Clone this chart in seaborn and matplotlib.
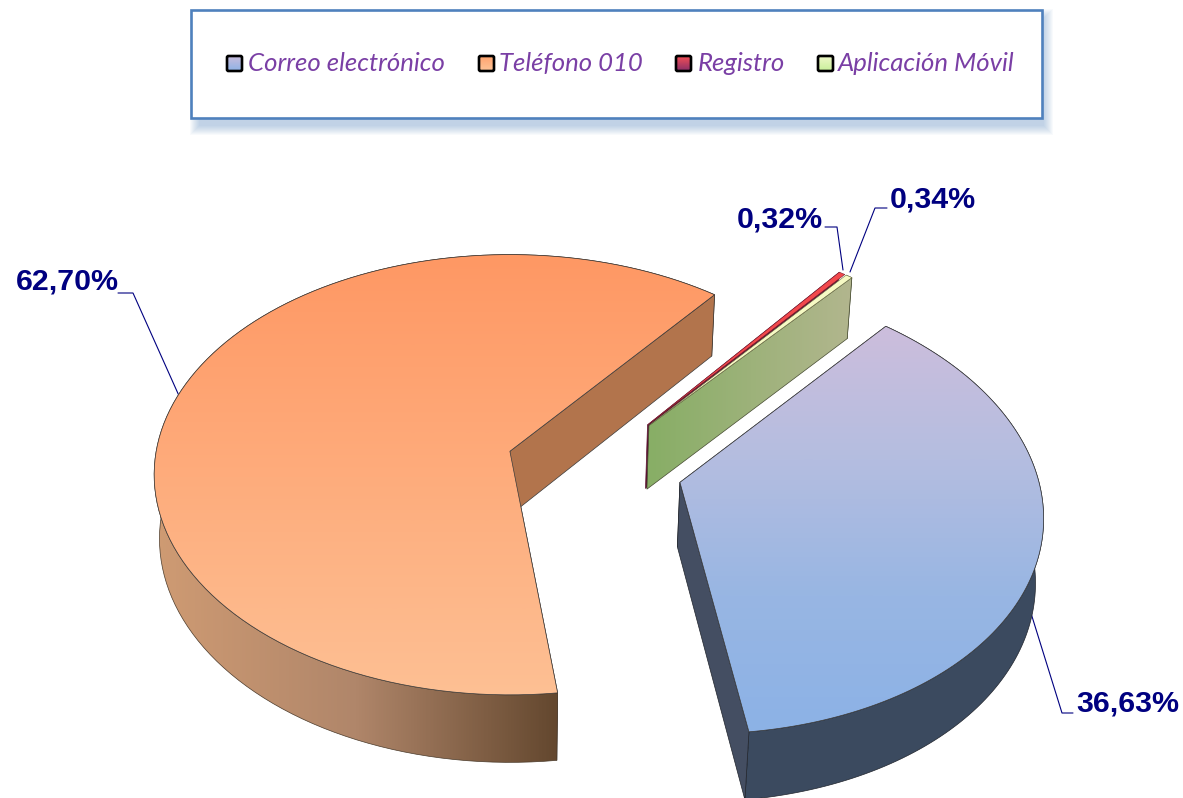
"""Exploded 3D pie of requests per channel, with perspective drawn by hand."""
import numpy as np
import matplotlib

matplotlib.use("Agg")
import matplotlib.pyplot as plt
from matplotlib.patches import FancyBboxPatch, Polygon, Rectangle
import seaborn as sns

channels = ["Correo electrónico", "Teléfono 010", "Registro", "Aplicación Móvil"]
shares = [36.63, 62.70, 0.32, 0.34]
share_labels = ["36,63%", "62,70%", "0,32%", "0,34%"]

# layout of the projection, in pixels of the picture
CX, CY, RX, RY = 509, 453, 354, 218
TILT = 0.1066
DEPTH, SHRINK = 65, 0.015
ORIGIN = (0.24, -0.06)
EXPLODE = 0.247
START_ANGLE = 48.8

sns.set_theme(style="white")
plt.rcParams["font.family"] = ["Liberation Sans", "DejaVu Sans"]

top_cmaps = [
    sns.blend_palette(["#cdbedc", "#b4bde0", "#98b6e3", "#8cb2e6"], as_cmap=True),
    sns.blend_palette(["#ff9864", "#fdc094"], as_cmap=True),
]
orange_wall = sns.blend_palette(["#cf9b73", "#b0866a", "#64482f"], as_cmap=True)
green_wall = sns.blend_palette(["#88ae66", "#b2b68e"], as_cmap=True)
key_cmaps = [
    sns.blend_palette(["#c9bddd", "#8fb3e6"], as_cmap=True),
    sns.blend_palette(["#ffa36e", "#fdc498"], as_cmap=True),
    sns.blend_palette(["#f44f56", "#8a2f68"], as_cmap=True),
    sns.blend_palette(["#eff8c8", "#c8f09a"], as_cmap=True),
]

fig = plt.figure(figsize=(11.83, 7.98), dpi=100)
ax = fig.add_axes([0, 0, 1, 1])
ax.set_xlim(0, 1183)
ax.set_ylim(798, 0)
ax.autoscale(False)
ax.axis("off")

order = [10]


def next_z():
    order[0] += 1
    return order[0]


def project(x, y, low=0.0):
    w = 1 + TILT * y + SHRINK * low
    return CX + RX * x / w, CY - RY * y / w + DEPTH * low / w


def fill(points, color=None, cmap=None, lims=None, horizontal=False, edge="#3a3a3a", lw=0.5):
    z = next_z()
    poly = Polygon(points, closed=True, transform=ax.transData,
                   facecolor=color if color else "none",
                   edgecolor=edge, linewidth=lw, zorder=z + 0.5)
    ax.add_patch(poly)
    if cmap is not None:
        size = 1183 if horizontal else 798
        t = np.clip((np.arange(size) - lims[0]) / (lims[1] - lims[0]), 0, 1)
        grad = t[None, :] if horizontal else t[:, None]
        im = ax.imshow(grad, cmap=cmap, vmin=0, vmax=1, aspect="auto",
                       extent=(0, 1183, 798, 0), zorder=z, interpolation="bilinear")
        im.set_clip_path(poly)


def slice_parts(a0, a1):
    mid = np.radians((a0 + a1) / 2)
    cx = ORIGIN[0] + EXPLODE * np.cos(mid)
    cy = ORIGIN[1] + EXPLODE * np.sin(mid)
    t = np.radians(np.linspace(a0, a1, 120))
    rx, ry = cx + np.cos(t), cy + np.sin(t)
    top_rim = np.column_stack(project(rx, ry))
    low_rim = np.column_stack(project(rx, ry, 1.0))
    apex = np.array(project(cx, cy))
    low_apex = np.array(project(cx, cy, 1.0))
    return apex, low_apex, top_rim, low_rim


# clockwise from the start angle, in the order of the data
fractions = np.array(shares) / sum(shares) * 360
ends = START_ANGLE - np.cumsum(fractions)
starts = ends + fractions
parts = [slice_parts(e, s) for s, e in zip(starts, ends)]

# leader lines sit behind the slices
leaders = [
    [(1073, 713), (1062, 713), (1030, 610)],
    [(118, 293), (133, 293), (180, 398)],
    [(825, 227), (837, 227), (843, 270)],
    [(887, 208), (875, 208), (850, 272)],
]
for pts in leaders:
    xs, ys = zip(*pts)
    ax.plot(xs, ys, color="#000080", lw=0.8, zorder=5)

# orange: hidden wall, then the outer wall, then the inner wall over its back part
apex, low_apex, rim, low_rim = parts[1]
fill([apex, rim[-1], low_rim[-1], low_apex], color="#b07048")
fill(np.vstack([rim, low_rim[::-1]]), cmap=orange_wall, lims=(155, 556), horizontal=True, edge="#4a3a2a")
fill([apex, rim[0], low_rim[0], low_apex], color="#b2744c")
fill(np.vstack([[apex], rim]), cmap=top_cmaps[1], lims=(256, 697))

# the two thin slices
apex, low_apex, rim, low_rim = parts[2]
fill([apex, rim[-1], low_rim[-1], low_apex], color="#5a1030", edge="#5a1030")
fill(np.vstack([[apex], rim]), color="#f2484c", edge="#7a2030", lw=0.4)

apex, low_apex, rim, low_rim = parts[3]
fill(np.vstack([rim, low_rim[::-1]]), color="#b2b68e", edge="#454a30", lw=0.4)
fill([apex, rim[0], low_rim[0], low_apex], cmap=green_wall, lims=(650, 852), horizontal=True, edge="#454a30")
fill(np.vstack([[apex], rim]), color="#f6fac4", edge="#70734a", lw=0.4)

# blue
apex, low_apex, rim, low_rim = parts[0]
fill(np.vstack([rim, low_rim[::-1]]), color="#3b4a5f", edge="#20242c")
fill([apex, rim[-1], low_rim[-1], low_apex], color="#3a4a60")
fill([apex, rim[0], low_rim[0], low_apex], color="#444e62", edge="#20242c")
fill(np.vstack([[apex], rim]), cmap=top_cmaps[0], lims=(323, 732))

# value labels
label_pos = [(1128, 703), (67, 282), (780, 219), (933, 199)]
for text, (x, y) in zip(share_labels, label_pos):
    ax.text(x, y, text, color="#000080", fontsize=21.9, fontweight="bold",
            ha="center", va="center", zorder=100)

# legend box with a soft shadow
for grow in np.linspace(9, 0, 10):
    ax.add_patch(Rectangle((199 - grow, 18 - grow), 851 + 2 * grow - 6, 108 + 2 * grow,
                           facecolor="#4f81bd", alpha=0.04, edgecolor="none", zorder=200))
ax.add_patch(Rectangle((191, 10), 851, 108, facecolor="white", edgecolor="#4f81bd",
                       linewidth=1.9, zorder=201))

key_x = [227, 479, 676, 818]
text_x = [248, 499, 698, 838]
for name, kx, tx, cmap in zip(channels, key_x, text_x, key_cmaps):
    t = np.linspace(0, 1, 32)[:, None]
    im = ax.imshow(t, cmap=cmap, vmin=0, vmax=1, aspect="auto",
                   extent=(kx, kx + 15, 71, 56), zorder=202)
    ax.add_patch(FancyBboxPatch((kx, 56), 15, 15, boxstyle="round,pad=0,rounding_size=1.5",
                                facecolor="none", edgecolor="black", linewidth=1.9, zorder=203))
    ax.text(tx, 71, name, color="#7a3fa5", fontsize=18.5, family="Lato", style="italic",
            ha="left", va="baseline", zorder=203)

fig.savefig("out.png", dpi=100, facecolor="white")
